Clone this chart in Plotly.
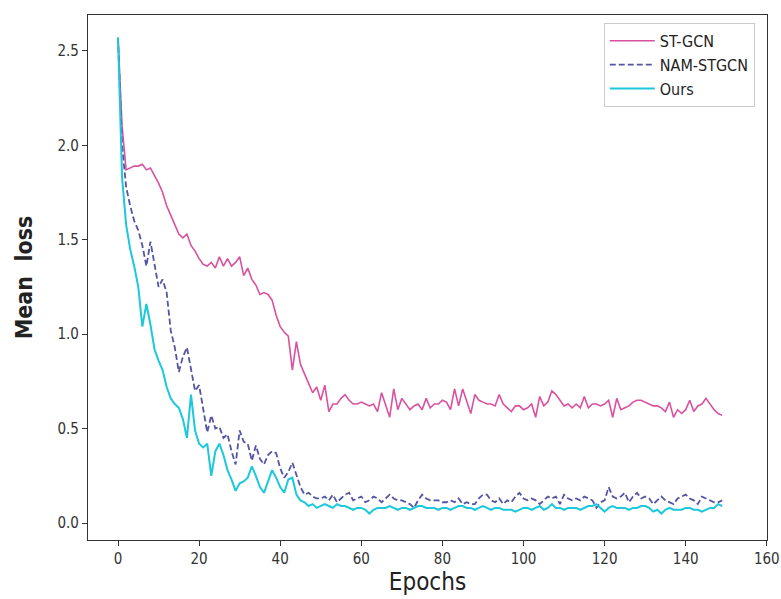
import plotly.graph_objects as go

epochs = list(range(150))

st_gcn = [
    2.57, 2.10, 1.87, 1.88, 1.89, 1.89, 1.90, 1.87, 1.88, 1.84,
    1.80, 1.75, 1.68, 1.63, 1.58, 1.53, 1.51, 1.53, 1.47, 1.44,
    1.40, 1.37, 1.36, 1.38, 1.35, 1.41, 1.36, 1.40, 1.36, 1.38,
    1.41, 1.31, 1.35, 1.29, 1.26, 1.21, 1.22, 1.21, 1.18, 1.10,
    1.04, 1.01, 0.99, 0.81, 0.96, 0.84, 0.79, 0.74, 0.69, 0.72,
    0.65, 0.73, 0.59, 0.63, 0.63, 0.66, 0.68, 0.65, 0.63, 0.63,
    0.64, 0.63, 0.62, 0.63, 0.59, 0.69, 0.62, 0.56, 0.71, 0.60,
    0.66, 0.63, 0.60, 0.62, 0.63, 0.60, 0.66, 0.61, 0.63, 0.63,
    0.65, 0.64, 0.60, 0.71, 0.62, 0.71, 0.64, 0.58, 0.68, 0.65,
    0.64, 0.63, 0.63, 0.62, 0.68, 0.63, 0.61, 0.59, 0.62, 0.62,
    0.60, 0.61, 0.63, 0.56, 0.67, 0.62, 0.64, 0.70, 0.68, 0.65,
    0.62, 0.63, 0.61, 0.63, 0.61, 0.67, 0.61, 0.63, 0.63, 0.62,
    0.63, 0.65, 0.56, 0.66, 0.60, 0.61, 0.62, 0.64, 0.65, 0.65,
    0.64, 0.63, 0.62, 0.62, 0.61, 0.59, 0.64, 0.56, 0.60, 0.58,
    0.60, 0.65, 0.59, 0.62, 0.63, 0.66, 0.63, 0.60, 0.58, 0.57,
]

nam_stgcn = [
    2.57, 2.00, 1.78, 1.68, 1.60, 1.55, 1.47, 1.36, 1.49, 1.38,
    1.25, 1.29, 1.22, 1.02, 0.93, 0.80, 0.88, 0.93, 0.81, 0.70,
    0.73, 0.60, 0.48, 0.57, 0.50, 0.51, 0.45, 0.47, 0.38, 0.31,
    0.49, 0.43, 0.42, 0.33, 0.41, 0.34, 0.31, 0.36, 0.38, 0.37,
    0.29, 0.24, 0.27, 0.32, 0.26, 0.19, 0.15, 0.16, 0.14, 0.13,
    0.13, 0.14, 0.12, 0.15, 0.11, 0.13, 0.15, 0.16, 0.12, 0.13,
    0.14, 0.11, 0.12, 0.14, 0.13, 0.11, 0.13, 0.15, 0.13, 0.12,
    0.12, 0.11, 0.10, 0.08, 0.12, 0.15, 0.13, 0.12, 0.12, 0.12,
    0.11, 0.11, 0.12, 0.11, 0.13, 0.10, 0.11, 0.10, 0.10, 0.13,
    0.15, 0.15, 0.12, 0.11, 0.13, 0.10, 0.12, 0.11, 0.14, 0.16,
    0.13, 0.12, 0.13, 0.12, 0.10, 0.12, 0.14, 0.13, 0.14, 0.10,
    0.15, 0.13, 0.12, 0.13, 0.12, 0.14, 0.13, 0.12, 0.08, 0.11,
    0.12, 0.19, 0.14, 0.13, 0.14, 0.16, 0.11, 0.14, 0.16, 0.13,
    0.14, 0.13, 0.10, 0.12, 0.14, 0.12, 0.11, 0.10, 0.13, 0.14,
    0.15, 0.13, 0.12, 0.10, 0.14, 0.13, 0.12, 0.11, 0.11, 0.12,
]

ours = [
    2.57, 1.83, 1.58, 1.45, 1.36, 1.25, 1.04, 1.16, 1.05, 0.92,
    0.86, 0.81, 0.72, 0.66, 0.63, 0.61, 0.55, 0.45, 0.68, 0.49,
    0.42, 0.40, 0.42, 0.25, 0.38, 0.42, 0.36, 0.28, 0.23, 0.17,
    0.21, 0.22, 0.24, 0.30, 0.25, 0.19, 0.16, 0.22, 0.28, 0.24,
    0.19, 0.16, 0.23, 0.24, 0.15, 0.12, 0.11, 0.09, 0.10, 0.08,
    0.09, 0.10, 0.09, 0.08, 0.10, 0.09, 0.09, 0.08, 0.07, 0.08,
    0.08, 0.07, 0.05, 0.07, 0.08, 0.08, 0.08, 0.09, 0.08, 0.07,
    0.08, 0.08, 0.07, 0.08, 0.09, 0.09, 0.08, 0.08, 0.08, 0.07,
    0.08, 0.08, 0.07, 0.08, 0.09, 0.09, 0.08, 0.08, 0.07, 0.08,
    0.09, 0.08, 0.07, 0.08, 0.08, 0.07, 0.07, 0.07, 0.06, 0.07,
    0.08, 0.08, 0.07, 0.08, 0.09, 0.07, 0.08, 0.10, 0.08, 0.08,
    0.07, 0.08, 0.08, 0.08, 0.07, 0.08, 0.09, 0.09, 0.10, 0.08,
    0.06, 0.08, 0.09, 0.08, 0.08, 0.08, 0.07, 0.08, 0.08, 0.09,
    0.09, 0.08, 0.06, 0.07, 0.05, 0.07, 0.08, 0.07, 0.07, 0.07,
    0.08, 0.08, 0.07, 0.07, 0.06, 0.07, 0.08, 0.08, 0.10, 0.09,
]

x_ticks = [0, 20, 40, 60, 80, 100, 120, 140, 160]
y_ticks = [0.0, 0.5, 1.0, 1.5, 2.0, 2.5]

FONT = "DejaVu Sans Condensed, Liberation Sans Narrow, DejaVu Sans"

fig = go.Figure()
fig.add_trace(go.Scatter(x=epochs, y=st_gcn, mode="lines", name="ST-GCN",
                         line=dict(color="#d9519f", width=1.6)))
fig.add_trace(go.Scatter(x=epochs, y=nam_stgcn, mode="lines", name="NAM-STGCN",
                         line=dict(color="#5555a3", width=1.8, dash="6px,3px")))
fig.add_trace(go.Scatter(x=epochs, y=ours, mode="lines", name="Ours",
                         line=dict(color="#1cc8dc", width=2)))

axis_common = dict(showgrid=False, zeroline=False, showline=True, linecolor="#333333",
                   linewidth=1.2, mirror=True, ticks="outside", ticklen=5,
                   tickcolor="#333333", tickfont=dict(size=15, color="#333333"),
                   automargin=False, ticklabeloverflow="allow")

fig.update_layout(
    width=781, height=599,
    margin=dict(l=88, r=14, t=15, b=59),
    paper_bgcolor="white", plot_bgcolor="white",
    font=dict(family=FONT, color="#222222"),
    xaxis=dict(range=[-7.4, 160.05], tickvals=x_ticks,
               title=dict(text="Epochs", font=dict(size=24), standoff=6),
               **axis_common),
    yaxis=dict(range=[-0.09, 2.69], tickvals=y_ticks, tickformat=".1f",
               title=dict(text="<b>Mean  loss</b>", font=dict(size=23), standoff=18),
               **axis_common),
    legend=dict(x=0.982, y=0.985, xanchor="right", yanchor="top",
                bgcolor="white", bordercolor="#cccccc", borderwidth=1,
                font=dict(size=16, color="#222222"), itemwidth=45,
                tracegroupgap=2),
    showlegend=True,
)

fig.write_html(
    "out.html",
    config={"displayModeBar": False},
    post_script="document.body.style.margin='0';document.body.style.overflow='hidden';",
)
